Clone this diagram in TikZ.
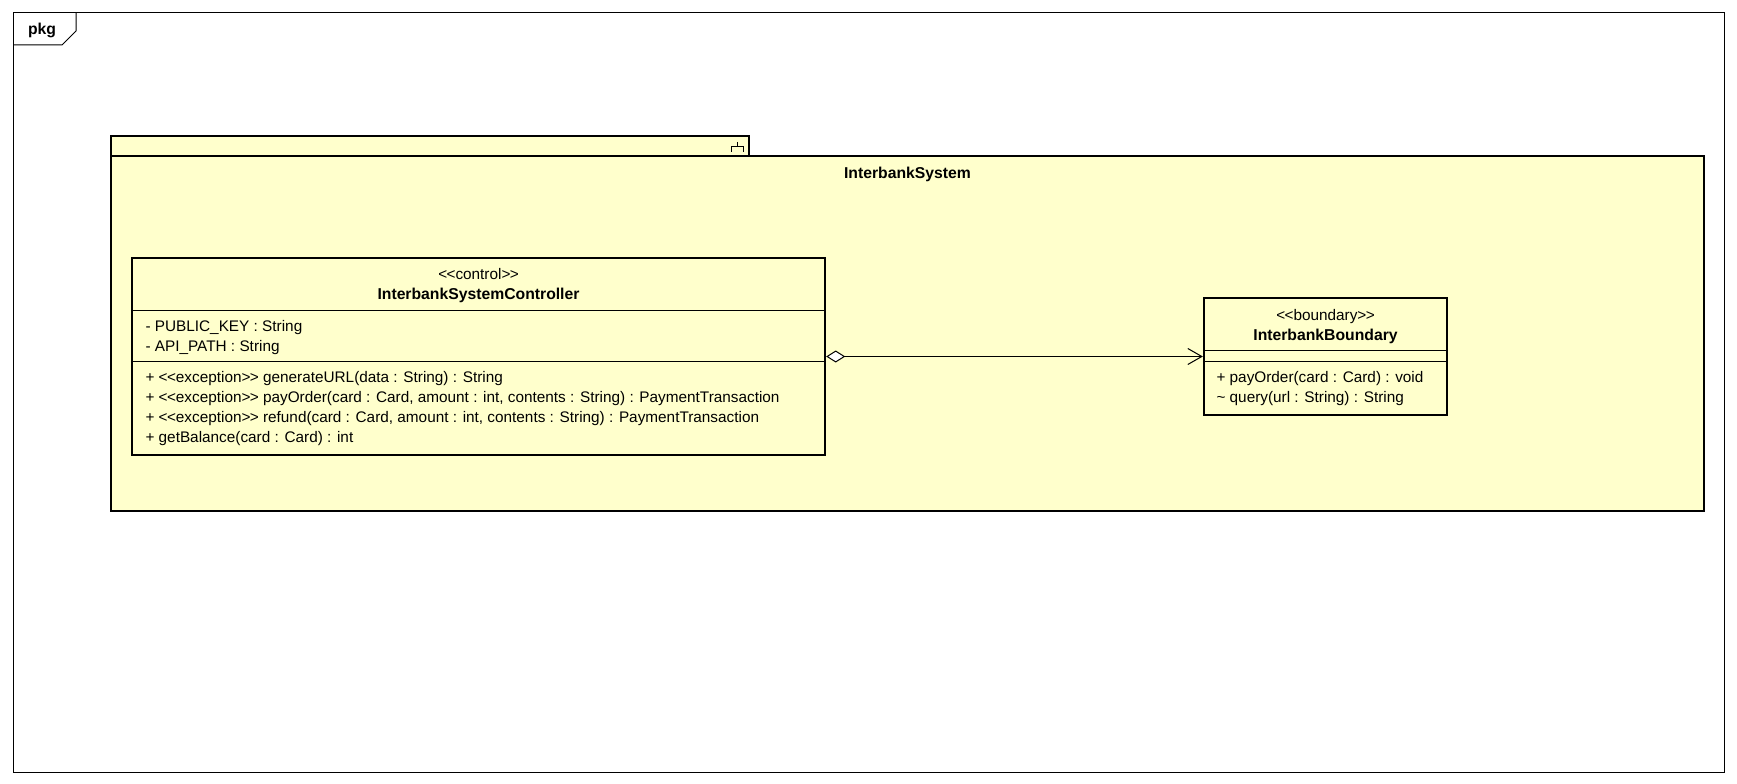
\documentclass[tikz,border=0pt]{standalone}
\usepackage{fontspec}
\setmainfont{Liberation Sans}
\usetikzlibrary{arrows.meta}
\definecolor{umlyellow}{RGB}{255,255,204}
% keep << and >> as plain characters (no guillemets)
\newcommand{\stereo}[1]{\mbox{<}\kern-0.5pt\mbox{<}#1\mbox{>}\kern-0.5pt\mbox{>}}

\tikzset{every picture/.style={line width=0.75pt}}
\tikzset{
  thickbox/.style={draw, fill=umlyellow, line width=1.8pt},
  classbox/.style={thickbox, inner sep=0pt},
  lbl/.style={anchor=west, inner sep=0pt, text height=9pt, text depth=2.5pt, font=\fontsize{11.5}{14}\selectfont},
  clbl/.style={lbl, anchor=center},
  blbl/.style={clbl, font=\fontsize{11.8}{14}\selectfont\bfseries},
}

\begin{document}
\begin{tikzpicture}[x=0.75pt,y=0.75pt,yscale=-1,xscale=1]
\useasboundingbox (0,0) rectangle (1737,784);

%Shape: Frame [id:pkgframe]
\draw (13,13) rectangle (1724,772) ;
\draw (13,45) -- (62,45) -- (76,31) -- (76,13) ;
% Text Node
\node [blbl] (frameName) at (42,30) {pkg};

%Shape: Package body
\draw [thickbox] (111,156) rectangle (1704,511) ;
%Shape: Package tab
\draw [thickbox] (111,136) rectangle (749,156) ;
%Straight Lines: subsystem icon
\draw (737,142) -- (737,147) ;
\draw (731,152) -- (731,147) -- (743,147) -- (743,152) ;
% Text Node
\node [blbl] (pkgName) at (907.5,174) {InterbankSystem};

%Shape: Class InterbankSystemController
\node [classbox, minimum width=519.75pt, minimum height=147.75pt] (ctrlCls) at (478.5,356.5) {};
\draw (ctrlCls.west |- 0,310) -- (ctrlCls.east |- 0,310) ;
\draw (ctrlCls.west |- 0,361) -- (ctrlCls.east |- 0,361) ;

%Shape: Class InterbankBoundary
\node [classbox, minimum width=182.25pt, minimum height=87.75pt] (bndCls) at (1325.5,356.5) {};
\draw (bndCls.west |- 0,350) -- (bndCls.east |- 0,350) ;
\draw (bndCls.west |- 0,361) -- (bndCls.east |- 0,361) ;

%Straight Lines: aggregation
\draw [{Diamond[open,fill=white,length=14.25pt,width=9pt]}-{Straight Barb[length=10.5pt,width=12pt]}] (ctrlCls.east |- bndCls.west) -- (bndCls.west) ;

% Text Node
\node [clbl] (ctrlStereo) at (478.5,275) {\stereo{control}};
% Text Node
\node [blbl] (ctrlName) at (478.5,295) {InterbankSystemController};
% Text Node
\node [lbl] (ctrlAttrA) at (145,327) {- PUBLIC\_KEY : String};
% Text Node
\node [lbl] (ctrlAttrB) at (145,347) {- API\_PATH : String};
% Text Node
\node [lbl] (ctrlOpA) at (145,378) {+ \stereo{exception} generateURL(data : String) : String};
% Text Node
\node [lbl] (ctrlOpB) at (145,398) {+ \stereo{exception} payOrder(card : Card, amount : int, contents : String) : PaymentTransaction};
% Text Node
\node [lbl] (ctrlOpC) at (145,418) {+ \stereo{exception} refund(card : Card, amount : int, contents : String) : PaymentTransaction};
% Text Node
\node [lbl] (ctrlOpD) at (145,438) {+ getBalance(card : Card) : int};

% Text Node
\node [clbl] (bndStereo) at (1325.5,316) {\stereo{boundary}};
% Text Node
\node [blbl] (bndName) at (1325.5,336) {InterbankBoundary};
% Text Node
\node [lbl] (bndOpA) at (1216,378) {+ payOrder(card : Card) : void};
% Text Node
\node [lbl] (bndOpB) at (1216,398) {\textasciitilde{} query(url : String) : String};

\end{tikzpicture}
\end{document}
